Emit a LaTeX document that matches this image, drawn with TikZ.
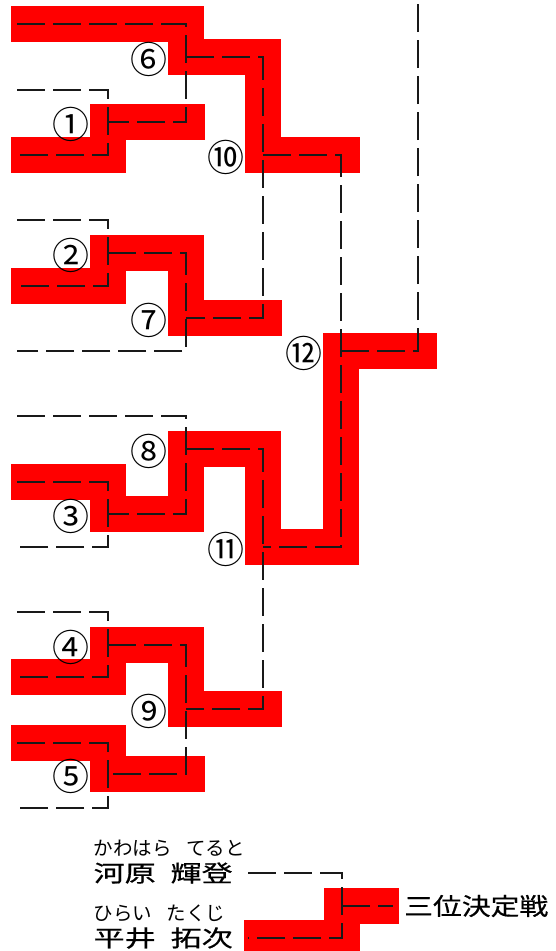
\documentclass[tikz,border=0pt]{standalone}
\usepackage{fontspec}
\newfontfamily\jpfont{Noto Sans CJK JP}
\newfontfamily\jpheavy[FakeBold=0.5]{Noto Sans CJK JP}
\usetikzlibrary{positioning,calc}
\tikzset{
  br/.style   = {line width=1.4pt, black!90, dash pattern=on 28pt off 8pt},
  win/.style  = {line width=36pt, red, line join=miter,
                 shorten <=-6pt, shorten >=-19pt},
  num/.style  = {font=\jpfont\fontsize{37}{37}\selectfont, inner sep=0pt,
                 yshift=-2pt},
  nm/.style   = {font=\jpheavy\fontsize{23}{23}\selectfont, inner sep=0pt,
                 xscale=1.35},
  kana/.style = {font=\jpfont\fontsize{19.5}{19.5}\selectfont, inner sep=0pt},
  ttl/.style  = {font=\jpheavy\fontsize{24}{24}\selectfont, inner sep=0pt,
                 xscale=1.2},
}
\newcommand\gap[1]{\hspace{#1em}}
\begin{document}
\begin{tikzpicture}[x=1pt, y=-1pt]
  \useasboundingbox (0,0) rectangle (555,951);
  % entries
  \coordinate (s0)  at (17,24);
  \coordinate (s1a) at (17,90);   \coordinate (s1b) at (17,155);
  \coordinate (s2a) at (17,220);  \coordinate (s2b) at (17,286);
  \coordinate (s7)  at (17,351);  \coordinate (s8)  at (17,416);
  \coordinate (s3a) at (17,482);  \coordinate (s3b) at (17,547);
  \coordinate (s4a) at (17,612);  \coordinate (s4b) at (17,677);
  \coordinate (s5a) at (17,743);  \coordinate (s5b) at (17,808);
  % match points
  \coordinate (j1)  at (108,122); \coordinate (j2)  at (108,253);
  \coordinate (j3)  at (108,514); \coordinate (j4)  at (108,645);
  \coordinate (j5)  at (108,774);
  \coordinate (j6)  at (186,57);  \coordinate (j7)  at (186,318);
  \coordinate (j8)  at (186,449); \coordinate (j9)  at (186,709);
  \coordinate (j10) at (263,155); \coordinate (j11) at (263,547);
  \coordinate (j12) at (341,351);
  \coordinate (fin) at (418,0);
  % third place
  \coordinate (k1)  at (248,873); \coordinate (k2)  at (248,938);
  \coordinate (j13) at (342,906); \coordinate (t)   at (393,906);

  % winners
  \draw[win] (s0) -| (j6) -| (j10) -- (j12 |- j10);
  \draw[win] (s1b) -| (j1) -- (j6 |- j1);
  \draw[win] (s2b) -| (j2) -| (j7) -- (j10 |- j7);
  \draw[win] (s3a) -| (j3) -| (j8) -| (j11) -| (j12) -- (fin |- j12);
  \draw[win] (s4b) -| (j4) -| (j9) -- (j11 |- j9);
  \draw[win] (s5a) -| (j5) -- (j9 |- j5);
  \draw[win, shorten <=-4pt, shorten >=-6pt] (k2) -| (j13) -- (t);

  % bracket
  \draw[br] (s1a) -| (j1) |- (s1b);
  \draw[br] (s2a) -| (j2) |- (s2b);
  \draw[br] (s3a) -| (j3) |- (s3b);
  \draw[br] (s4a) -| (j4) |- (s4b);
  \draw[br] (s5a) -| (j5) |- (s5b);
  \draw[br] (s0) -| (j6) |- (j1);
  \draw[br] (j2) -| (j7) |- (s7);
  \draw[br] (s8) -| (j8) |- (j3);
  \draw[br] (j4) -| (j9) |- (j5);
  \draw[br] (j6) -| (j10) |- (j7);
  \draw[br] (j8) -| (j11) |- (j9);
  \draw[br] (j10) -| (j12) |- (j11);
  \draw[br] (j12) -| (fin);
  \draw[br] (k1) -| (j13) |- (k2);
  \draw[br] (j13) -- (t);

  % match numbers
  \node[num, left=18pt of j1]  (n1)  {①};
  \node[num, left=18pt of j2]  (n2)  {②};
  \node[num, left=18pt of j3]  (n3)  {③};
  \node[num, left=18pt of j4]  (n4)  {④};
  \node[num, left=18pt of j5]  (n5)  {⑤};
  \node[num, left=18pt of j6]  (n6)  {⑥};
  \node[num, left=18pt of j7]  (n7)  {⑦};
  \node[num, left=18pt of j8]  (n8)  {⑧};
  \node[num, left=18pt of j9]  (n9)  {⑨};
  \node[num, left=18pt of j10] (n10) {⑩};
  \node[num, left=18pt of j11] (n11) {⑪};
  \node[num, left=18pt of j12] (n12) {⑫};

  % third place match
  \node[nm, left=15pt of k1] (p1) {河原\gap{0.48}輝登};
  \node[nm, left=15pt of k2] (p2) {平井\gap{0.48}拓次};
  \node[kana, above=5pt of p1.north west, anchor=south west] (r1)
    {かわはら\gap{0.75}てると};
  \node[kana, above=5pt of p2.north west, anchor=south west] (r2)
    {ひらい\gap{0.75}たくじ};
  \node[ttl, right=11pt of t] (title) {三位決定戦};
\end{tikzpicture}
\end{document}
